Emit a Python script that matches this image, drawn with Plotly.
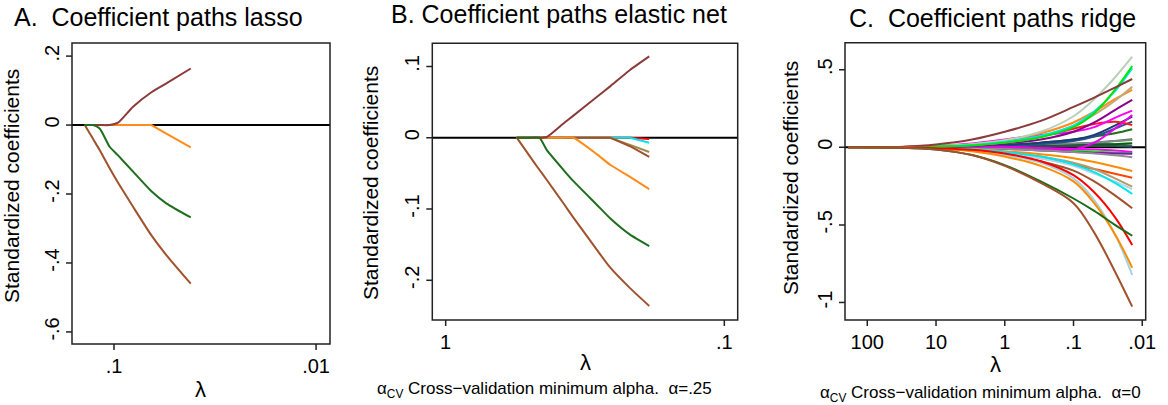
import plotly.graph_objects as go

# ---------------- Panel A: lasso ----------------
lam_lasso = [0.1396, 0.1271, 0.1178, 0.1051, 0.0955, 0.0805, 0.0653, 0.0551, 0.0417]
lasso_maroon = [0, 0, 0, 0, 0.007, 0.053, 0.095, 0.121, 0.164]
lasso_orange = [0, 0, 0, 0, 0, 0, 0, -0.025, -0.065]
lasso_brown = [0, -0.04, -0.0725, -0.125, -0.167, -0.237, -0.32, -0.377, -0.46]
lasso_green = [0, 0, -0.01, -0.063, -0.088, -0.135, -0.192, -0.227, -0.268]

# ---------------- Panel B: elastic net ----------------
lam_enet = [0.556, 0.498, 0.461, 0.434, 0.378, 0.348, 0.287, 0.257, 0.218, 0.186]
enet_red = [0, 0, 0, 0, 0, 0, 0, 0, 0, -0.002]
enet_cyan = [0, 0, 0, 0, 0, 0, 0, 0, 0, -0.007]
enet_olive = [0, 0, 0, 0, 0, 0, 0, 0, -0.010, -0.020]
enet_sienna = [0, 0, 0, 0, 0, 0, 0, 0, -0.012, -0.027]
enet_orange = [0, 0, 0, 0, 0, 0, -0.023, -0.038, -0.055, -0.072]
enet_maroon = [0, 0, 0, 0.001, 0.020, 0.031, 0.057, 0.072, 0.095, 0.114]
enet_brown = [0, -0.0266, -0.045, -0.059, -0.092, -0.112, -0.157, -0.182, -0.211, -0.236]
enet_green = [0, 0, 0, -0.017, -0.045, -0.061, -0.094, -0.113, -0.136, -0.152]

# ---------------- Panel C: ridge ----------------
lam_ridge = [190, 30, 10, 3, 1, 0.3, 0.1, 0.05, 0.025, 0.014]
ridge_01 = [0, 0.004, 0.018, 0.05, 0.10, 0.17, 0.26, 0.32, 0.385, 0.44]
ridge_02 = [0, 0.002, 0.008, 0.02, 0.045, 0.10, 0.20, 0.31, 0.45, 0.584]
ridge_03 = [0, 0.001, 0.005, 0.012, 0.03, 0.065, 0.13, 0.22, 0.37, 0.524]
ridge_04 = [0, 0.001, 0.006, 0.015, 0.035, 0.075, 0.14, 0.23, 0.36, 0.509]
ridge_05 = [0, 0.001, 0.006, 0.015, 0.03, 0.07, 0.14, 0.21, 0.30, 0.39]
ridge_06 = [0, 0.002, 0.008, 0.02, 0.045, 0.09, 0.16, 0.23, 0.31, 0.37]
ridge_07 = [0, 0.001, 0.004, 0.01, 0.025, 0.05, 0.10, 0.16, 0.24, 0.305]
ridge_08 = [0, 0.002, 0.01, 0.025, 0.05, 0.08, 0.10, 0.13, 0.19, 0.236]
ridge_09 = [0, 0.001, 0.003, 0.005, 0.004, -0.005, -0.012, 0.03, 0.12, 0.208]
ridge_10 = [0, 0.001, 0.003, 0.008, 0.015, 0.03, 0.05, 0.08, 0.14, 0.197]
ridge_11 = [0, 0.002, 0.008, 0.02, 0.04, 0.07, 0.12, 0.15, 0.165, 0.144]
ridge_12 = [0, 0, 0.002, 0.005, 0.01, 0.02, 0.04, 0.07, 0.12, 0.165]
ridge_13 = [0, 0.001, 0.003, 0.008, 0.015, 0.03, 0.05, 0.07, 0.09, 0.116]
ridge_14 = [0, 0, 0.001, 0.003, 0.008, 0.015, 0.025, 0.03, 0.04, 0.047]
ridge_15 = [0, 0, 0.001, 0.002, 0.004, 0.008, 0.012, 0.016, 0.02, 0.026]
ridge_16 = [0, 0, 0, 0.001, 0.003, 0.006, 0.01, 0.012, 0.008, 0.004]
ridge_17 = [0, 0, -0.001, -0.003, -0.008, -0.015, -0.022, -0.028, -0.034, -0.039]
ridge_18 = [0, 0, -0.001, -0.004, -0.01, -0.02, -0.03, -0.036, -0.04, -0.042]
ridge_19 = [0, 0, -0.001, -0.004, -0.01, -0.02, -0.03, -0.04, -0.052, -0.064]
ridge_20 = [0, -0.001, -0.005, -0.012, -0.025, -0.045, -0.07, -0.095, -0.125, -0.153]
ridge_21 = [0, -0.002, -0.008, -0.02, -0.04, -0.07, -0.11, -0.14, -0.17, -0.196]
ridge_22 = [0, -0.001, -0.005, -0.012, -0.03, -0.06, -0.10, -0.14, -0.20, -0.254]
ridge_23 = [0, -0.001, -0.005, -0.013, -0.03, -0.06, -0.11, -0.16, -0.23, -0.301]
ridge_24 = [0, -0.001, -0.005, -0.015, -0.035, -0.07, -0.12, -0.17, -0.22, -0.27]
ridge_25 = [0, -0.002, -0.008, -0.02, -0.045, -0.09, -0.15, -0.22, -0.31, -0.393]
ridge_26 = [0, -0.003, -0.015, -0.05, -0.115, -0.22, -0.33, -0.41, -0.50, -0.57]
ridge_27 = [0, -0.001, -0.006, -0.016, -0.04, -0.09, -0.18, -0.29, -0.45, -0.63]
ridge_28 = [0, -0.002, -0.008, -0.025, -0.06, -0.12, -0.22, -0.36, -0.56, -0.776]
ridge_29 = [0, -0.001, -0.006, -0.02, -0.05, -0.10, -0.20, -0.34, -0.56, -0.823]
ridge_30 = [0, -0.003, -0.015, -0.05, -0.12, -0.23, -0.36, -0.55, -0.80, -1.027]
ridge_31 = [0, 0, 0.001, 0.003, 0.007, 0.012, 0.02, 0.03, 0.04, 0.052]
ridge_32 = [0, 0, -0.001, -0.002, -0.003, -0.006, -0.01, -0.015, -0.02, -0.03]
ridge_33 = [0, 0, 0.001, 0.002, 0.005, 0.01, 0.018, 0.025, 0.02, 0.01]

ridge_series = [
    (ridge_31, "#556b2f"), (ridge_32, "#ff00ff"), (ridge_33, "#4a6f8a"),
    (ridge_14, "#7b8b8b"), (ridge_15, "#006400"), (ridge_16, "#2f4f4f"),
    (ridge_17, "#00ee00"), (ridge_18, "#9400d3"), (ridge_19, "#8c8c8c"),
    (ridge_20, "#ff8c00"), (ridge_21, "#ff4500"), (ridge_22, "#b49b6e"),
    (ridge_24, "#b0d8e8"), (ridge_23, "#00e5ee"), (ridge_25, "#a0522d"),
    (ridge_13, "#1e6e1e"), (ridge_12, "#27568b"), (ridge_10, "#1f3d73"),
    (ridge_11, "#ff1a1a"), (ridge_09, "#ee00ee"), (ridge_08, "#ff00ff"),
    (ridge_07, "#8b008b"), (ridge_06, "#ff8c1a"), (ridge_05, "#c4a77d"),
    (ridge_02, "#b8d0b8"), (ridge_04, "#00e5ee"), (ridge_03, "#00e600"),
    (ridge_01, "#8c3b3b"), (ridge_29, "#a4d3e3"), (ridge_28, "#ff8c00"),
    (ridge_27, "#ff0000"), (ridge_26, "#1a6b1a"), (ridge_30, "#a0522d"),
]

# tick settings
xticks_a, xtext_a = [0.1, 0.01], [".1", ".01"]
yticks_a, ytext_a = [0.2, 0, -0.2, -0.4, -0.6], [".2", "0", "-.2", "-.4", "-.6"]
xticks_b, xtext_b = [1, 0.1], ["1", ".1"]
yticks_b, ytext_b = [0.1, 0, -0.1, -0.2], [".1", "0", "-.1", "-.2"]
xticks_c, xtext_c = [100, 10, 1, 0.1, 0.01], ["100", "10", "1", ".1", ".01"]
yticks_c, ytext_c = [0.5, 0, -0.5, -1], [".5", "0", "-.5", "-1"]

FONT = "Liberation Sans, Arial, Helvetica, sans-serif"
MAROON = "#8c3b3b"
BROWN = "#a0522d"
GREEN = "#1e6e1e"
ORANGE = "#ff8c1a"

fig = go.Figure()
LW = 2

def add(x, y, color, ax, shape="linear", smoothing=1.0):
    fig.add_trace(go.Scatter(x=x, y=y, mode="lines", xaxis=ax[0], yaxis=ax[1],
                             line=dict(color=color, width=LW, shape=shape, smoothing=smoothing),
                             showlegend=False, hoverinfo="skip"))

# Panel A traces
add(lam_lasso, lasso_orange, ORANGE, ("x", "y"))
add(lam_lasso, lasso_maroon, MAROON, ("x", "y"), "spline", 0.6)
add(lam_lasso, lasso_brown, BROWN, ("x", "y"), "spline", 0.6)
add(lam_lasso, lasso_green, GREEN, ("x", "y"), "spline", 0.6)

# Panel B traces
add(lam_enet, enet_red, "#ff0000", ("x2", "y2"))
add(lam_enet, enet_cyan, "#00e5ee", ("x2", "y2"))
add(lam_enet, enet_olive, "#9a8c4a", ("x2", "y2"))
add(lam_enet, enet_sienna, BROWN, ("x2", "y2"))
add(lam_enet, enet_orange, ORANGE, ("x2", "y2"), "spline", 0.5)
add(lam_enet, enet_maroon, MAROON, ("x2", "y2"), "spline", 0.5)
add(lam_enet, enet_brown, BROWN, ("x2", "y2"), "spline", 0.6)
add(lam_enet, enet_green, GREEN, ("x2", "y2"), "spline", 0.5)

# Panel C traces
for vals, col in ridge_series:
    add(lam_ridge, vals, col, ("x3", "y3"), shape="spline")

W, H = 1168, 405
def px(x):
    return x / W
def py(y):
    return 1 - y / H

# panel boxes in window pixels: (left, right, top, bottom)
box_a = (72, 330, 43, 344)
box_b = (432.3, 737.7, 43.3, 320)
box_c = (845, 1145.7, 42.7, 320)

tickfont = dict(family=FONT, size=20, color="black")
lab = dict(showline=False, showgrid=False, zeroline=False, ticks="",
           ticklabelstandoff=8, tickfont=tickfont)

fig.update_layout(
    template="none",
    width=W, height=H,
    margin=dict(l=0, r=0, t=0, b=0),
    paper_bgcolor="white", plot_bgcolor="white",
    showlegend=False,
    font=dict(family=FONT, color="black"),
    xaxis=dict(type="log", range=[-0.792, -2.069], tickvals=xticks_a, ticktext=xtext_a,
               domain=[px(box_a[0]), px(box_a[1])], anchor="y", **lab),
    yaxis=dict(range=[-0.635, 0.238], tickvals=yticks_a, ticktext=ytext_a,
               domain=[py(box_a[3]), py(box_a[2])], tickangle=-90, anchor="x", **lab),
    xaxis2=dict(type="log", range=[0.048, -1.048], tickvals=xticks_b, ticktext=xtext_b,
                domain=[px(box_b[0]), px(box_b[1])], anchor="y2", **lab),
    yaxis2=dict(range=[-0.2557, 0.1324], tickvals=yticks_b, ticktext=ytext_b,
                domain=[py(box_b[3]), py(box_b[2])], tickangle=-90, anchor="x2", **lab),
    xaxis3=dict(type="log", range=[2.324, -2.05], tickvals=xticks_c, ticktext=xtext_c,
                domain=[px(box_c[0]), px(box_c[1])], anchor="y3", **lab),
    yaxis3=dict(range=[-1.113, 0.674], tickvals=yticks_c, ticktext=ytext_c,
                domain=[py(box_c[3]), py(box_c[2])], tickangle=-90, anchor="x3", **lab),
)

TICKLEN = 6
FRAME = dict(color="#222222", width=1.5)
panels = [("x", "y", box_a, xticks_a, yticks_a),
          ("x2", "y2", box_b, xticks_b, yticks_b),
          ("x3", "y3", box_c, xticks_c, yticks_c)]
for xr, yr, box, xt, yt in panels:
    wpx = box[1] - box[0]
    hpx = box[3] - box[2]
    # zero reference line
    fig.add_shape(type="line", xref=f"{xr} domain", yref=yr, x0=0, x1=1, y0=0, y1=0,
                  line=dict(color="black", width=2), layer="below")
    # frame
    fig.add_shape(type="rect", xref=f"{xr} domain", yref=f"{yr} domain", x0=0, x1=1, y0=0, y1=1,
                  line=FRAME, layer="above")
    # outside tick marks at the axis tick values
    for v in xt:
        fig.add_shape(type="line", xref=xr, yref=f"{yr} domain", x0=v, x1=v,
                      y0=0, y1=-TICKLEN / hpx, line=FRAME, layer="above")
    for v in yt:
        fig.add_shape(type="line", xref=f"{xr} domain", yref=yr, x0=0, x1=-TICKLEN / wpx,
                      y0=v, y1=v, line=FRAME, layer="above")

def ann(text, x, y, size, angle=0, xanchor="center", yanchor="middle"):
    fig.add_annotation(text=text, x=px(x), y=py(y), xref="paper", yref="paper",
                       showarrow=False, textangle=angle, xanchor=xanchor, yanchor=yanchor,
                       font=dict(family=FONT, size=size, color="black"))

# titles
ann("A.  Coefficient paths lasso", 158, 17, 25)
ann("B. Coefficient paths elastic net", 559, 14, 25)
ann("C.  Coefficient paths ridge", 992, 18, 25)
# y-axis titles
ann("Standardized coefficients", 11, 186, 21, angle=-90)
ann("Standardized coefficients", 370, 183, 21, angle=-90)
ann("Standardized coefficients", 790, 178, 21, angle=-90)
# x-axis titles
ann("λ", 200, 389, 22)
ann("λ", 585, 362, 22)
ann("λ", 995, 364, 22)
# notes
ann("α<sub>CV</sub> Cross−validation minimum alpha.  α=.25", 544, 390, 17)
ann("α<sub>CV</sub> Cross−validation minimum alpha.  α=0", 980, 394, 17)

fig.write_html("out.html", config={"displayModeBar": False},
               post_script="document.body.style.margin='0';document.body.style.overflow='hidden';")
